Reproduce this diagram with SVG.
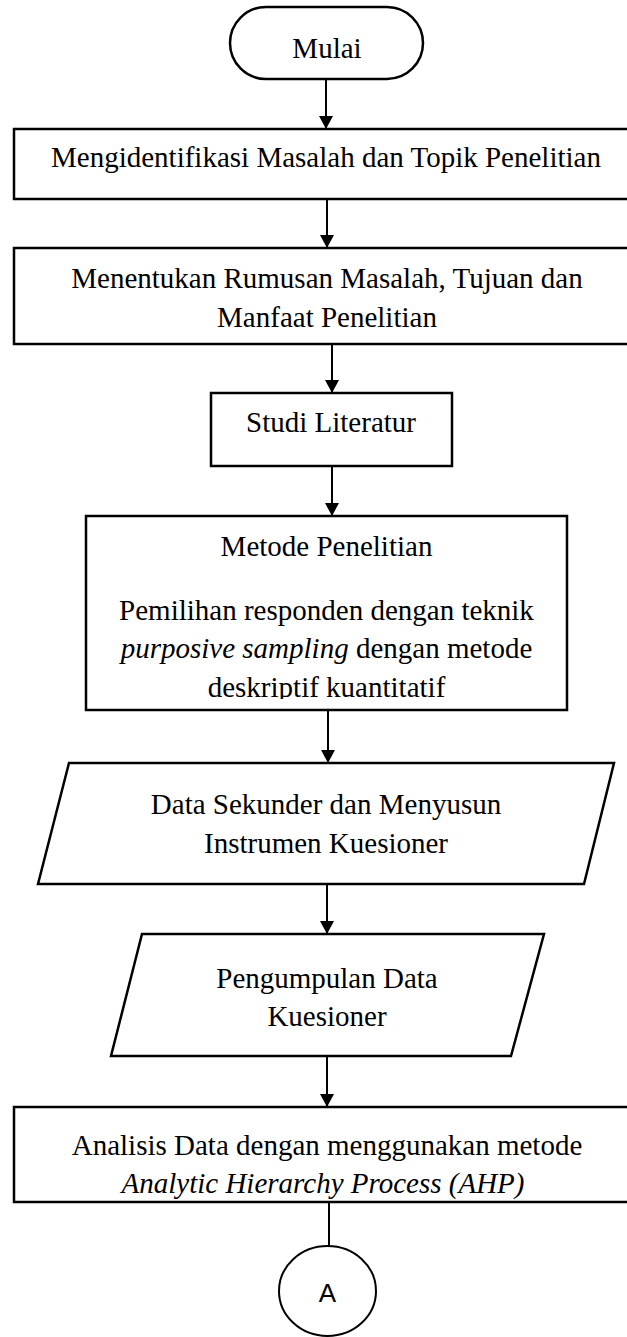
<svg xmlns="http://www.w3.org/2000/svg" width="627" height="1337" viewBox="0 0 627 1337">
  <style>
    .shape { fill: #ffffff; stroke: #000000; stroke-width: 2.5; }
    .lbl { font-family: "Liberation Serif", "Times New Roman", serif; font-size: 29px; fill: #000000; text-anchor: middle; }
    .it { font-style: italic; }
    .conn { stroke: #000000; stroke-width: 2; fill: none; }
    .sans { font-family: "Liberation Sans", Arial, sans-serif; font-size: 26px; fill: #000000; text-anchor: middle; }
  </style>
  <defs>
    <marker id="arrow" markerUnits="userSpaceOnUse" viewBox="0 0 13 14" refX="13" refY="7" markerWidth="13" markerHeight="14" orient="auto">
      <path d="M0,0 L13,7 L0,14 Z" fill="#000000"/>
    </marker>
    <clipPath id="clipMetode">
      <rect x="86" y="516" width="481" height="183"/>
    </clipPath>
  </defs>
  <rect width="627" height="1337" fill="#ffffff"/>

  <g id="connectors">
    <line class="conn" x1="326" y1="79" x2="326" y2="129" marker-end="url(#arrow)"/>
    <line class="conn" x1="327" y1="199" x2="327" y2="248" marker-end="url(#arrow)"/>
    <line class="conn" x1="332" y1="344" x2="332" y2="393" marker-end="url(#arrow)"/>
    <line class="conn" x1="332" y1="466" x2="332" y2="516" marker-end="url(#arrow)"/>
    <line class="conn" x1="328" y1="710" x2="328" y2="763" marker-end="url(#arrow)"/>
    <line class="conn" x1="327" y1="884" x2="327" y2="934" marker-end="url(#arrow)"/>
    <line class="conn" x1="327" y1="1056" x2="327" y2="1107" marker-end="url(#arrow)"/>
    <line class="conn" x1="329" y1="1202" x2="329" y2="1246"/>
  </g>

  <g id="mulai">
    <rect class="shape" x="230" y="7" width="193" height="72" rx="36" ry="36"/>
    <text class="lbl" x="327" y="58">Mulai</text>
  </g>

  <g id="identifikasi">
    <rect class="shape" x="14" y="129" width="630" height="70"/>
    <text class="lbl" x="326" y="167">Mengidentifikasi Masalah dan Topik Penelitian</text>
  </g>

  <g id="rumusan">
    <rect class="shape" x="14" y="248" width="630" height="96"/>
    <text class="lbl" x="327" y="288">Menentukan Rumusan Masalah, Tujuan dan</text>
    <text class="lbl" x="327" y="327">Manfaat Penelitian</text>
  </g>

  <g id="studi">
    <rect class="shape" x="211" y="393" width="241" height="73"/>
    <text class="lbl" x="331" y="432">Studi Literatur</text>
  </g>

  <g id="metode">
    <rect class="shape" x="86" y="516" width="481" height="194"/>
    <g clip-path="url(#clipMetode)">
      <text class="lbl" x="326.5" y="556">Metode Penelitian</text>
      <text class="lbl" x="326.5" y="620">Pemilihan responden dengan teknik</text>
      <text class="lbl" x="326.5" y="658"><tspan class="it">purposive sampling</tspan> dengan metode</text>
      <text class="lbl" x="326.5" y="697">deskriptif kuantitatif</text>
    </g>
  </g>

  <g id="sekunder">
    <polygon class="shape" points="69,763 614,763 584,884 38,884"/>
    <text class="lbl" x="326" y="814">Data Sekunder dan Menyusun</text>
    <text class="lbl" x="326" y="853">Instrumen Kuesioner</text>
  </g>

  <g id="pengumpulan">
    <polygon class="shape" points="142,934 544,934 511,1056 111,1056"/>
    <text class="lbl" x="327" y="988">Pengumpulan Data</text>
    <text class="lbl" x="327" y="1026">Kuesioner</text>
  </g>

  <g id="analisis">
    <rect class="shape" x="14" y="1107" width="630" height="95"/>
    <text class="lbl" x="327" y="1155">Analisis Data dengan menggunakan metode</text>
    <text class="lbl it" x="323" y="1193">Analytic Hierarchy Process (AHP)</text>
  </g>

  <g id="konektor-a">
    <ellipse cx="327.5" cy="1291" rx="48.5" ry="45" fill="#ffffff" stroke="#000000" stroke-width="2"/>
    <text class="sans" x="327.5" y="1302">A</text>
  </g>
</svg>
